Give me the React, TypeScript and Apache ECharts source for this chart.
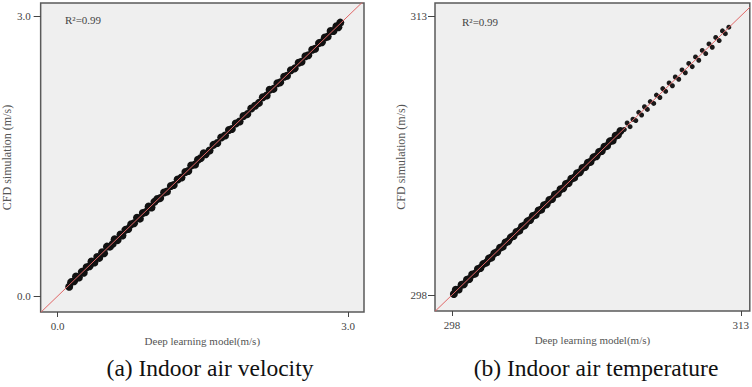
import React, { useEffect, useRef } from "react";
import * as echarts from "echarts";

// (a) Indoor air velocity: deep learning model (x) vs CFD simulation (y)
const velX = [0.12, 0.14, 0.17, 0.19, 0.22, 0.25, 0.27, 0.3, 0.33, 0.35, 0.38, 0.41, 0.43, 0.46, 0.48, 0.51, 0.54, 0.57, 0.59, 0.62, 0.65, 0.67, 0.7, 0.73, 0.76, 0.79, 0.82, 0.85, 0.88, 0.91, 0.94, 0.97, 1.0, 1.03, 1.06, 1.1, 1.13, 1.17, 1.2, 1.24, 1.28, 1.32, 1.35, 1.38, 1.42, 1.45, 1.48, 1.51, 1.53, 1.57, 1.61, 1.65, 1.69, 1.73, 1.77, 1.8, 1.84, 1.88, 1.92, 1.96, 2.0, 2.04, 2.08, 2.12, 2.16, 2.19, 2.23, 2.27, 2.3, 2.34, 2.37, 2.41, 2.45, 2.49, 2.52, 2.56, 2.59, 2.63, 2.66, 2.7, 2.73, 2.76, 2.79, 2.82, 2.85, 2.88, 2.9, 2.92];
const velY = [0.1, 0.15, 0.16, 0.21, 0.2, 0.26, 0.25, 0.31, 0.32, 0.37, 0.36, 0.42, 0.41, 0.47, 0.46, 0.53, 0.53, 0.56, 0.61, 0.6, 0.66, 0.65, 0.71, 0.72, 0.77, 0.78, 0.84, 0.83, 0.89, 0.9, 0.96, 0.95, 1.01, 1.04, 1.05, 1.11, 1.12, 1.18, 1.19, 1.25, 1.27, 1.33, 1.34, 1.4, 1.41, 1.46, 1.48, 1.53, 1.52, 1.56, 1.62, 1.64, 1.7, 1.72, 1.78, 1.79, 1.85, 1.87, 1.93, 1.95, 2.01, 2.04, 2.07, 2.13, 2.15, 2.21, 2.22, 2.28, 2.29, 2.35, 2.36, 2.42, 2.44, 2.5, 2.51, 2.57, 2.58, 2.64, 2.65, 2.71, 2.72, 2.77, 2.78, 2.84, 2.84, 2.89, 2.88, 2.93];

// (b) Indoor air temperature: dense part
const tempX = [298.1, 298.2, 298.35, 298.5, 298.62, 298.78, 298.9, 299.05, 299.2, 299.35, 299.48, 299.62, 299.78, 299.92, 300.05, 300.2, 300.35, 300.5, 300.64, 300.78, 300.92, 301.06, 301.2, 301.35, 301.5, 301.64, 301.78, 301.92, 302.06, 302.2, 302.35, 302.5, 302.64, 302.78, 302.92, 303.06, 303.2, 303.35, 303.5, 303.64, 303.78, 303.92, 304.06, 304.2, 304.35, 304.5, 304.64, 304.78, 304.92, 305.06, 305.2, 305.35, 305.5, 305.64, 305.78, 305.92, 306.06, 306.2, 306.35, 306.5, 306.62, 306.75];
const tempY = [298.05, 298.28, 298.3, 298.55, 298.58, 298.82, 298.86, 299.1, 299.15, 299.4, 299.45, 299.66, 299.74, 299.96, 300.02, 300.24, 300.31, 300.54, 300.6, 300.82, 300.89, 301.1, 301.17, 301.39, 301.46, 301.68, 301.75, 301.96, 302.03, 302.25, 302.31, 302.54, 302.6, 302.83, 302.88, 303.11, 303.16, 303.4, 303.46, 303.69, 303.74, 303.97, 304.02, 304.25, 304.31, 304.55, 304.6, 304.83, 304.88, 305.11, 305.16, 305.4, 305.46, 305.69, 305.74, 305.97, 306.02, 306.26, 306.31, 306.56, 306.6, 306.82];
// (b) sparse upper part
const tempSparseX = [306.95, 307.1, 307.25, 307.4, 307.55, 307.7, 307.85, 308.0, 308.15, 308.3, 308.48, 308.62, 308.8, 308.95, 309.1, 309.28, 309.45, 309.6, 309.78, 309.95, 310.12, 310.3, 310.48, 310.65, 310.82, 311.0, 311.18, 311.35, 311.52, 311.7, 311.88, 312.05, 312.2, 312.38];
const tempSparseY = [306.9, 307.25, 307.05, 307.45, 307.38, 307.82, 307.68, 308.12, 307.98, 308.4, 308.3, 308.75, 308.62, 309.1, 308.95, 309.4, 309.25, 309.72, 309.6, 310.1, 309.95, 310.45, 310.28, 310.8, 310.62, 311.15, 310.98, 311.5, 311.32, 311.85, 311.68, 312.2, 312.05, 312.4];

const velTicks = [0, 3];
const tempTicks = [298, 313];
const velRange = { xMin: -0.175, xMax: 3.165, yMin: -0.17, yMax: 3.14 };
const tempRange = { xMin: 297.12, xMax: 313.47, yMin: 297.14, yMax: 313.7 };
const rSquared = "R²=0.99";
const xName = "Deep learning model(m/s)";
const yName = "CFD simulation (m/s)";
const captions = ["(a) Indoor air velocity", "(b) Indoor air temperature"];

const FONT = "Liberation Serif";

const pairs = (xs: number[], ys: number[]) => xs.map((x, i) => [x, ys[i]]);

function axis(
  dir: "x" | "y",
  gridIndex: number,
  min: number,
  max: number,
  ticks: number[],
  fmt: (v: number) => string,
  labelMargin: number,
  nameGap: number
) {
  return {
    type: "value",
    gridIndex,
    min,
    max,
    name: dir === "x" ? xName : yName,
    nameLocation: "middle",
    nameGap,
    nameRotate: dir === "y" ? 90 : 0,
    nameTextStyle: { fontFamily: FONT, fontSize: dir === "y" ? 12 : 11, color: "#555" },
    splitLine: { show: false },
    axisLine: { show: false, onZero: false },
    axisTick: {
      show: true,
      inside: false,
      length: dir === "y" ? 7 : 5,
      customValues: ticks,
      lineStyle: { color: "#444", width: 1 },
    },
    axisLabel: {
      show: true,
      customValues: ticks,
      margin: labelMargin,
      formatter: fmt,
      fontFamily: FONT,
      fontSize: 11,
      color: "#444",
    },
  };
}

export default function App() {
  const ref = useRef<HTMLDivElement>(null);
  useEffect(() => {
    if (!ref.current) return;
    const chart = echarts.init(ref.current, undefined, { renderer: "svg" });
    const gridStyle = {
      show: true,
      backgroundColor: "#efefef",
      borderColor: "#5a5a5a",
      borderWidth: 1.5,
      containLabel: false,
    };
    const f1 = (v: number) => v.toFixed(1);
    const f0 = (v: number) => v.toFixed(0);
    chart.setOption({
      animation: false,
      backgroundColor: "#ffffff",
      textStyle: { fontFamily: FONT },
      grid: [
        { ...gridStyle, left: 40, top: 3, width: 324, height: 309 },
        { ...gridStyle, left: 435, top: 3, width: 316, height: 308 },
      ],
      xAxis: [
        axis("x", 0, velRange.xMin, velRange.xMax, velTicks, f1, 8, 19),
        axis("x", 1, tempRange.xMin, tempRange.xMax, tempTicks, f0, 8, 20),
      ],
      yAxis: [
        axis("y", 0, velRange.yMin, velRange.yMax, velTicks, f1, 10, 25),
        axis("y", 1, tempRange.yMin, tempRange.yMax, tempTicks, f0, 8, 23),
      ],
      series: [
        {
          type: "scatter",
          xAxisIndex: 0,
          yAxisIndex: 0,
          data: pairs(velX, velY),
          symbol: "circle",
          symbolSize: 8,
          itemStyle: { color: "#111", opacity: 1 },
          clip: true,
        },
        {
          type: "scatter",
          xAxisIndex: 1,
          yAxisIndex: 1,
          data: pairs(tempX, tempY),
          symbol: "circle",
          symbolSize: 8,
          itemStyle: { color: "#111", opacity: 1 },
          clip: true,
        },
        {
          type: "scatter",
          xAxisIndex: 1,
          yAxisIndex: 1,
          data: pairs(tempSparseX, tempSparseY),
          symbol: "circle",
          symbolSize: 5,
          itemStyle: { color: "#1a1a1a", opacity: 1 },
          clip: true,
        },
        {
          type: "line",
          xAxisIndex: 0,
          yAxisIndex: 0,
          data: [
            [velRange.xMin, velRange.xMin],
            [velRange.xMax, velRange.xMax],
          ],
          symbol: "none",
          lineStyle: { color: "#e06666", width: 1 },
          clip: true,
          z: 5,
        },
        {
          type: "line",
          xAxisIndex: 1,
          yAxisIndex: 1,
          data: [
            [tempRange.xMin, tempRange.xMin],
            [tempRange.xMax, tempRange.xMax],
          ],
          symbol: "none",
          lineStyle: { color: "#e06666", width: 1 },
          clip: true,
          z: 5,
        },
      ],
      graphic: [
        {
          type: "text",
          x: 65,
          y: 20,
          style: { text: rSquared, fontFamily: FONT, fontSize: 11, fill: "#444", textVerticalAlign: "middle" },
        },
        {
          type: "text",
          x: 462,
          y: 22,
          style: { text: rSquared, fontFamily: FONT, fontSize: 11, fill: "#444", textVerticalAlign: "middle" },
        },
        {
          type: "text",
          x: 210,
          y: 368,
          style: {
            text: captions[0],
            fontFamily: FONT,
            fontSize: 23.5,
            fill: "#111",
            textAlign: "center",
            textVerticalAlign: "middle",
          },
        },
        {
          type: "text",
          x: 596,
          y: 368,
          style: {
            text: captions[1],
            fontFamily: FONT,
            fontSize: 23.5,
            fill: "#111",
            textAlign: "center",
            textVerticalAlign: "middle",
          },
        },
      ],
    });
    return () => chart.dispose();
  }, []);
  return (
    <div
      ref={ref}
      style={{ position: "absolute", left: 0, top: 0, width: 752, height: 387, background: "#fff" }}
    />
  );
}
